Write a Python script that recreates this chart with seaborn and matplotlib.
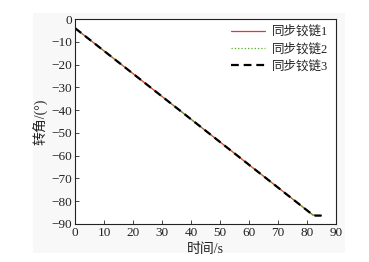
import matplotlib
matplotlib.use("Agg")
import matplotlib.pyplot as plt
import seaborn as sns
import pandas as pd

# data
time_s = [0, 82, 83, 85]
hinge1 = [-4, -86, -86.3, -86.3]
hinge2 = [-4, -86, -86.3, -86.3]
hinge3 = [-4, -86, -86.3, -86.3]
labels = ["同步铰链1", "同步铰链2", "同步铰链3"]
xticks = list(range(0, 91, 10))
yticks = list(range(-90, 1, 10))

sns.set_theme(style="ticks")
plt.rcParams['font.family'] = ['Liberation Serif', 'Noto Sans CJK SC']
plt.rcParams['axes.unicode_minus'] = True

fig = plt.figure(figsize=(3.69, 2.62), dpi=100, facecolor="white")
bg = plt.Rectangle((33/369, 1-253/262), (345-33)/369, (253-13)/262,
                   transform=fig.transFigure, facecolor="#f8f8f8",
                   edgecolor="none", zorder=-10)
fig.add_artist(bg)
ax = fig.add_axes([75/369, 1-224/262, (336-75)/369, (224-19)/262])
ax.set_zorder(5)
ax.set_facecolor("white")

df = pd.DataFrame({"t": time_s, "a": hinge1, "b": hinge2, "c": hinge3})
sns.lineplot(data=df, x="t", y="a", ax=ax, color="#e8352a", lw=0.9, label=labels[0])
sns.lineplot(data=df, x="t", y="b", ax=ax, color="#4caf1f", lw=0.9, ls=":", label=labels[1])
sns.lineplot(data=df, x="t", y="c", ax=ax, color="black", lw=1.6, ls=(0, (3.5, 2.2)), label=labels[2])

ax.set_xlim(0, 90)
ax.set_ylim(-90, 0)
ax.set_xticks(xticks)
ax.set_yticks(yticks)
ax.tick_params(direction="in", length=3, width=0.6, labelsize=9.5, colors="#222222", pad=2)
for s in ax.spines.values():
    s.set_linewidth(0.8)
    s.set_color("#222222")
ax.set_xlabel("时间/s", fontsize=10, labelpad=3, color="#222222")
ax.set_ylabel("转角/(°)", fontsize=10, labelpad=2, color="#222222")

leg = ax.legend(loc="upper right", bbox_to_anchor=(0.985, 0.985), fontsize=9,
                frameon=False, borderaxespad=0.0, handlelength=2.7,
                labelspacing=0.38, borderpad=0.3, handletextpad=0.55)
for t in leg.get_texts():
    t.set_color("#222222")

fig.savefig("out.png", dpi=100, facecolor=fig.get_facecolor())
